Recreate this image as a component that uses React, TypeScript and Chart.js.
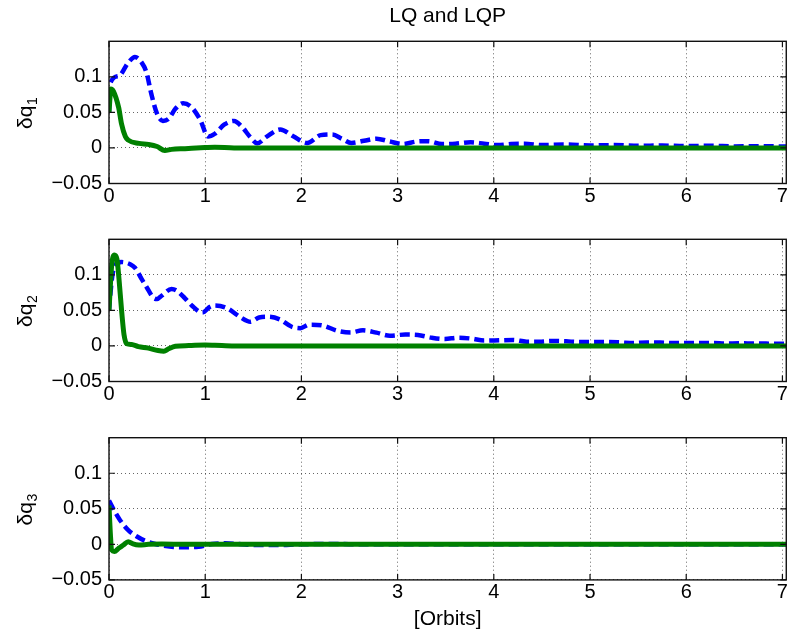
import React, { useEffect, useRef } from 'react';
import { Chart, registerables } from 'chart.js';

Chart.register(...registerables);

const FONT = '"Liberation Sans", Arial, Helvetica, sans-serif';

const chartTitle = 'LQ and LQP';
const xAxisTitle = '[Orbits]';
const X_MIN = 0;
const X_MAX = 7.04;
const Y_MIN = -0.05;
const Y_MAX = 0.15;
const xTickValues = [0, 1, 2, 3, 4, 5, 6, 7];
const xTickLabels = ['0', '1', '2', '3', '4', '5', '6', '7'];
const yTickValues = [-0.05, 0, 0.05, 0.1];
const yTickLabels = ['\u22120.05', '0', '0.05', '0.1'];

// Panel 1: δq1
const q1LqX = [0, 0.01, 0.1, 0.2, 0.27, 0.34, 0.39, 0.44, 0.5, 0.56, 0.62, 0.69, 0.77, 0.86, 0.95, 1.03, 1.1, 1.2, 1.3, 1.38, 1.47, 1.54, 1.64, 1.78, 1.92, 2.06, 2.2, 2.32, 2.42, 2.52, 2.65, 2.78, 2.92, 3.05, 3.2, 3.32, 3.46, 3.6, 3.76, 3.9, 4.04, 4.18, 4.32, 4.5, 4.75, 5.0, 5.25, 5.5, 5.75, 6.0, 6.25, 6.5, 6.75, 7.04];
const q1LqY = [0.05, 0.09, 0.101, 0.12, 0.128, 0.12, 0.106, 0.076, 0.048, 0.038, 0.041, 0.055, 0.063, 0.057, 0.039, 0.016, 0.02, 0.033, 0.038, 0.03, 0.015, 0.0065, 0.016, 0.026, 0.016, 0.007, 0.018, 0.019, 0.013, 0.007, 0.01, 0.013, 0.009, 0.0055, 0.009, 0.0095, 0.0055, 0.006, 0.008, 0.006, 0.004, 0.0056, 0.006, 0.004, 0.0048, 0.0035, 0.004, 0.003, 0.0034, 0.0026, 0.003, 0.0022, 0.0025, 0.002];
const q1LqpX = [0, 0.02, 0.045, 0.1, 0.13, 0.17, 0.2, 0.31, 0.41, 0.5, 0.58, 0.65, 0.79, 1.0, 1.1, 1.3, 7.04];
const q1LqpY = [0.05, 0.083, 0.08, 0.057, 0.034, 0.016, 0.011, 0.0065, 0.005, 0.002, -0.0037, -0.002, -0.001, 0.0005, 0.001, 0, 0];

// Panel 2: δq2
const q2LqX = [0, 0.03, 0.06, 0.13, 0.22, 0.27, 0.34, 0.39, 0.46, 0.5, 0.55, 0.65, 0.7, 0.79, 0.86, 0.97, 1.05, 1.1, 1.23, 1.36, 1.47, 1.56, 1.66, 1.78, 1.9, 1.99, 2.08, 2.23, 2.37, 2.51, 2.64, 2.78, 2.92, 3.08, 3.21, 3.35, 3.49, 3.63, 3.77, 3.9, 4.06, 4.2, 4.34, 4.47, 4.61, 4.75, 4.88, 5.03, 5.17, 5.31, 5.45, 5.59, 5.73, 5.86, 6.0, 6.14, 6.28, 6.41, 6.55, 6.69, 6.83, 7.04];
const q2LqY = [0.05, 0.094, 0.113, 0.118, 0.115, 0.11, 0.094, 0.083, 0.068, 0.066, 0.071, 0.08, 0.078, 0.067, 0.057, 0.047, 0.055, 0.057, 0.053, 0.041, 0.034, 0.04, 0.041, 0.037, 0.027, 0.025, 0.03, 0.0285, 0.0215, 0.019, 0.022, 0.0187, 0.0145, 0.016, 0.0154, 0.0117, 0.0098, 0.0117, 0.0103, 0.0075, 0.008, 0.0084, 0.006, 0.006, 0.007, 0.0065, 0.0056, 0.0056, 0.0056, 0.005, 0.004, 0.005, 0.0047, 0.004, 0.004, 0.004, 0.004, 0.0033, 0.0037, 0.0035, 0.0033, 0.003];
const q2LqpX = [0, 0.028, 0.056, 0.083, 0.104, 0.132, 0.156, 0.184, 0.236, 0.306, 0.41, 0.51, 0.57, 0.62, 0.69, 0.83, 1.0, 1.1, 1.3, 7.04];
const q2LqpY = [0.05, 0.113, 0.128, 0.122, 0.094, 0.048, 0.016, 0.003, 0.002, -0.001, -0.003, -0.0065, -0.0074, -0.004, -0.0005, 0.0005, 0.0014, 0.001, 0, 0];

// Panel 3: δq3
const q3LqX = [0, 0.06, 0.115, 0.2, 0.29, 0.375, 0.48, 0.65, 0.79, 0.93, 1.07, 1.21, 1.35, 1.52, 1.76, 1.97, 2.3, 2.7, 3.2, 4, 5, 6, 7.04];
const q3LqY = [0.0615, 0.046, 0.034, 0.02, 0.011, 0.005, 0.0005, -0.0033, -0.004, -0.0033, 0.0005, 0.0014, 0.0005, -0.001, -0.001, 0, 0.0005, 0, 0, 0, 0, 0, 0];
const q3LqpX = [0, 0.014, 0.028, 0.056, 0.1, 0.15, 0.2, 0.25, 0.31, 0.41, 0.55, 0.8, 7.04];
const q3LqpY = [0.055, 0.015, -0.008, -0.01, -0.0056, -0.001, 0.0037, 0.0005, -0.001, 0, 0.0005, 0, 0];

const zip = (xs: number[], ys: number[]) => xs.map((x, i) => ({ x, y: ys[i] }));

const PLOT_H = 142.2;

type PanelProps = {
  canvasTop: number;
  canvasH: number;
  areaTop: number;
  sub: string;
  lqX: number[];
  lqY: number[];
  lqpX: number[];
  lqpY: number[];
  showTitle?: boolean;
  showXTitle?: boolean;
};

function Panel(props: PanelProps) {
  const ref = useRef<HTMLCanvasElement | null>(null);
  useEffect(() => {
    if (!ref.current) return;
    const { canvasH, areaTop, sub, showTitle, showXTitle } = props;
    const xAxisH = canvasH - areaTop - PLOT_H;

    const framePlugin = {
      id: 'frame' + sub,
      afterDatasetsDraw(chart: any) {
        const { ctx, chartArea } = chart;
        const { left, right, top, bottom } = chartArea;
        const xs = chart.scales.x;
        const ys = chart.scales.y;
        ctx.save();
        ctx.strokeStyle = '#111';
        ctx.lineWidth = 1.4;
        ctx.strokeRect(left, top, right - left, bottom - top);
        ctx.lineWidth = 1.2;
        const tl = 6;
        ctx.beginPath();
        xTickValues.forEach((v) => {
          const px = xs.getPixelForValue(v);
          ctx.moveTo(px, bottom);
          ctx.lineTo(px, bottom - tl);
          ctx.moveTo(px, top);
          ctx.lineTo(px, top + tl);
        });
        yTickValues.forEach((v) => {
          const py = ys.getPixelForValue(v);
          ctx.moveTo(left, py);
          ctx.lineTo(left + tl, py);
          ctx.moveTo(right, py);
          ctx.lineTo(right - tl, py);
        });
        ctx.stroke();

        // y-axis label with subscript
        const cy = (top + bottom) / 2 + 1;
        ctx.translate(31.5, cy);
        ctx.rotate(-Math.PI / 2);
        ctx.fillStyle = '#000';
        ctx.textBaseline = 'alphabetic';
        ctx.textAlign = 'left';
        ctx.font = '21px ' + FONT;
        const main = '\u03b4q';
        const wMain = ctx.measureText(main).width;
        ctx.font = '14px ' + FONT;
        const wSub = ctx.measureText(sub).width;
        const start = -(wMain + wSub) / 2;
        ctx.font = '21px ' + FONT;
        ctx.fillText(main, start, 0);
        ctx.font = '14px ' + FONT;
        ctx.fillText(sub, start + wMain + 0.5, 5);
        ctx.restore();
      },
    };

    const chart = new Chart(ref.current, {
      type: 'line',
      data: {
        datasets: [
          {
            label: 'LQ',
            data: zip(props.lqX, props.lqY),
            borderColor: '#0000ff',
            borderWidth: 4.5,
            borderDash: [10, 5],
            borderCapStyle: 'butt',
            pointRadius: 0,
            fill: false,
            cubicInterpolationMode: 'monotone',
            order: 2,
          },
          {
            label: 'LQP',
            data: zip(props.lqpX, props.lqpY),
            borderColor: '#008000',
            borderWidth: 5,
            pointRadius: 0,
            fill: false,
            cubicInterpolationMode: 'monotone',
            order: 1,
          },
        ],
      },
      options: {
        animation: false,
        responsive: false,
        events: [],
        layout: { padding: { top: showTitle ? 0 : areaTop, right: 1.7, left: 0, bottom: 0 } },
        plugins: {
          legend: { display: false },
          tooltip: { enabled: false },
          title: {
            display: !!showTitle,
            text: chartTitle,
            color: '#000',
            font: { family: FONT, size: 21, weight: 'normal' },
            padding: { top: 4.1, bottom: 12 },
            fullSize: false,
          },
        },
        scales: {
          x: {
            type: 'linear',
            min: X_MIN,
            max: X_MAX,
            afterBuildTicks: (s: any) => {
              s.ticks = xTickValues.map((v) => ({ value: v }));
            },
            afterFit: (s: any) => {
              s.height = xAxisH;
            },
            ticks: {
              autoSkip: false,
              maxRotation: 0,
              color: '#000',
              padding: 1,
              font: { family: FONT, size: 20 },
              callback: (v: any) => {
                const i = xTickValues.indexOf(Number(v));
                return i >= 0 ? xTickLabels[i] : '';
              },
            },
            grid: { color: 'rgba(0,0,0,0.6)', lineWidth: 1, drawTicks: false },
            border: { display: false, dash: [1, 3] },
            title: {
              display: !!showXTitle,
              text: xAxisTitle,
              color: '#000',
              font: { family: FONT, size: 21 },
              padding: { top: 0, bottom: 2.4 },
            },
          },
          y: {
            type: 'linear',
            min: Y_MIN,
            max: Y_MAX,
            afterBuildTicks: (s: any) => {
              s.ticks = yTickValues.map((v) => ({ value: v }));
            },
            afterFit: (s: any) => {
              s.width = 109;
            },
            ticks: {
              autoSkip: false,
              color: '#000',
              padding: 7,
              font: { family: FONT, size: 20 },
              callback: (v: any) => {
                const i = yTickValues.findIndex((t) => Math.abs(t - Number(v)) < 1e-9);
                return i >= 0 ? yTickLabels[i] : '';
              },
            },
            grid: { color: 'rgba(0,0,0,0.6)', lineWidth: 1, drawTicks: false },
            border: { display: false, dash: [1, 3] },
          },
        },
      } as any,
      plugins: [framePlugin],
    });
    return () => chart.destroy();
  }, []);

  return (
    <canvas
      ref={ref}
      width={789}
      height={props.canvasH}
      style={{ position: 'absolute', left: 0, top: props.canvasTop, width: 789, height: props.canvasH }}
    />
  );
}

export default function App() {
  return (
    <div style={{ position: 'absolute', left: 0, top: 0, width: 789, height: 634, background: '#fff', overflow: 'hidden' }}>
      <Panel canvasTop={0} canvasH={214} areaTop={41.3} sub="1" lqX={q1LqX} lqY={q1LqY} lqpX={q1LqpX} lqpY={q1LqpY} showTitle />
      <Panel canvasTop={198} canvasH={214} areaTop={41.3} sub="2" lqX={q2LqX} lqY={q2LqY} lqpX={q2LqpX} lqpY={q2LqpY} />
      <Panel canvasTop={396} canvasH={238} areaTop={41.7} sub="3" lqX={q3LqX} lqY={q3LqY} lqpX={q3LqpX} lqpY={q3LqpY} showXTitle />
    </div>
  );
}
